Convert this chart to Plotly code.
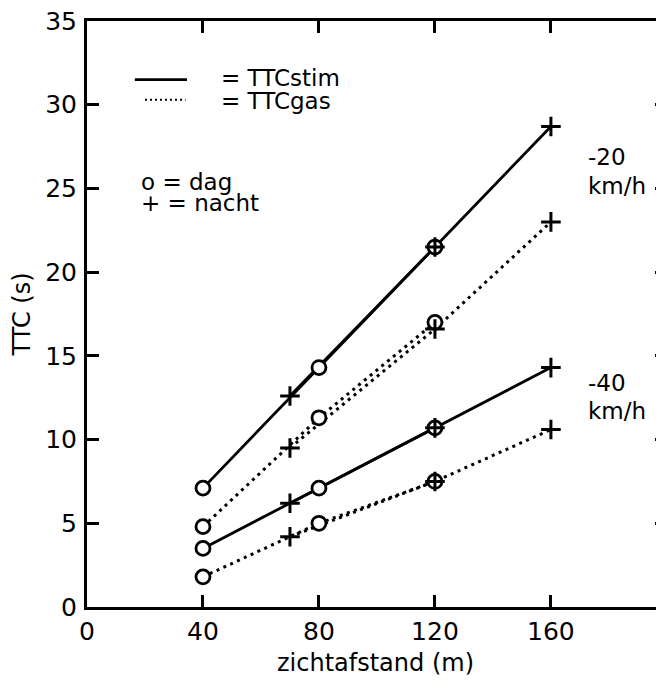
import plotly.graph_objects as go

# ---- data ----
x_dag = [40, 80, 120]
x_nacht = [70, 120, 160]

stim20_dag = [7.1, 14.3, 21.5]
stim20_nacht = [12.6, 21.5, 28.7]
gas20_dag = [4.8, 11.3, 17.0]
gas20_nacht = [9.5, 16.6, 23.0]

stim40_dag = [3.5, 7.1, 10.7]
stim40_nacht = [6.2, 10.7, 14.3]
gas40_dag = [1.8, 5.0, 7.5]
gas40_nacht = [4.2, 7.5, 10.6]

x_ticks = [0, 40, 80, 120, 160]
y_ticks = [0, 5, 10, 15, 20, 25, 30, 35]

FONT = "DejaVu Sans, Arial, sans-serif"
BLACK = "black"
DOT = "3px,4.5px"

fig = go.Figure()

series = [
    (x_dag, stim20_dag, "solid"), (x_nacht, stim20_nacht, "solid"),
    (x_dag, gas20_dag, DOT), (x_nacht, gas20_nacht, DOT),
    (x_dag, stim40_dag, "solid"), (x_nacht, stim40_nacht, "solid"),
    (x_dag, gas40_dag, DOT), (x_nacht, gas40_nacht, DOT),
]
for xs, ys, dash in series:
    fig.add_trace(go.Scatter(x=xs, y=ys, mode="lines",
                             line=dict(color=BLACK, width=3 if dash != "solid" else 2.8, dash=dash),
                             hoverinfo="skip", showlegend=False))

# dag markers (open circles with white fill)
for ys in [stim20_dag, gas20_dag, stim40_dag, gas40_dag]:
    fig.add_trace(go.Scatter(x=x_dag, y=ys, mode="markers",
                             marker=dict(symbol="circle", size=14, color="white",
                                         line=dict(color=BLACK, width=2.8)),
                             showlegend=False))
# nacht markers (plus)
for ys in [stim20_nacht, gas20_nacht, stim40_nacht, gas40_nacht]:
    fig.add_trace(go.Scatter(x=x_nacht, y=ys, mode="markers",
                             marker=dict(symbol="cross-thin", size=14, color=BLACK,
                                         line=dict(color=BLACK, width=3)),
                             showlegend=False))

# dummy trace on right axis for mirrored ticks without line
fig.add_trace(go.Scatter(x=[None], y=[None], yaxis="y2", showlegend=False))

# legend-like samples
fig.add_shape(type="line", xref="x", yref="y", x0=16.5, x1=34.5, y0=31.5, y1=31.5,
              line=dict(color=BLACK, width=2.8))
fig.add_shape(type="line", xref="x", yref="y", x0=20, x1=34, y0=30.3, y1=30.3,
              line=dict(color=BLACK, width=2, dash="2px,3px"))

ann_font = dict(family=FONT, size=23, color=BLACK)
anns = [
    (45.5, 31.6, "= TTCstim"),
    (45.5, 30.25, "= TTCgas"),
    (18, 25.4, "o = dag"),
    (18, 24.15, "+ = nacht"),
    (172, 26.85, "-20"),
    (172, 25.15, "km/h"),
    (172, 13.35, "-40"),
    (172, 11.7, "km/h"),
]
for x, y, t in anns:
    fig.add_annotation(x=x, y=y, xref="x", yref="y", text=t, showarrow=False,
                       xanchor="left", yanchor="middle", font=ann_font)

axis_common = dict(showgrid=False, zeroline=False, ticks="inside", ticklen=12,
                   tickwidth=3, tickcolor=BLACK, linecolor=BLACK, linewidth=3,
                   ticklabeloverflow="allow", automargin=False,
                   tickfont=dict(family=FONT, size=25, color=BLACK))

fig.update_layout(
    width=664, height=681,
    margin=dict(l=79, r=8, t=13, b=82, autoexpand=False),
    paper_bgcolor="white", plot_bgcolor="white",
    xaxis=dict(range=[0, 199], tickvals=x_ticks, showline=True, mirror="ticks",
               title=dict(text="zichtafstand (m)", font=dict(family=FONT, size=24, color=BLACK),
                          standoff=10),
               **axis_common),
    yaxis=dict(range=[0, 35], tickvals=y_ticks, showline=True,
               title=dict(text="TTC (s)", font=dict(family=FONT, size=24, color=BLACK),
                          standoff=20),
               ticklabelstandoff=2,
               **axis_common),
    yaxis2=dict(range=[0, 35], tickvals=y_ticks[1:-1], overlaying="y", side="right",
                showline=False, showticklabels=False, showgrid=False, zeroline=False,
                ticks="inside", ticklen=9, tickwidth=3, tickcolor=BLACK),
    showlegend=False,
)

fig.write_html("out.html")
